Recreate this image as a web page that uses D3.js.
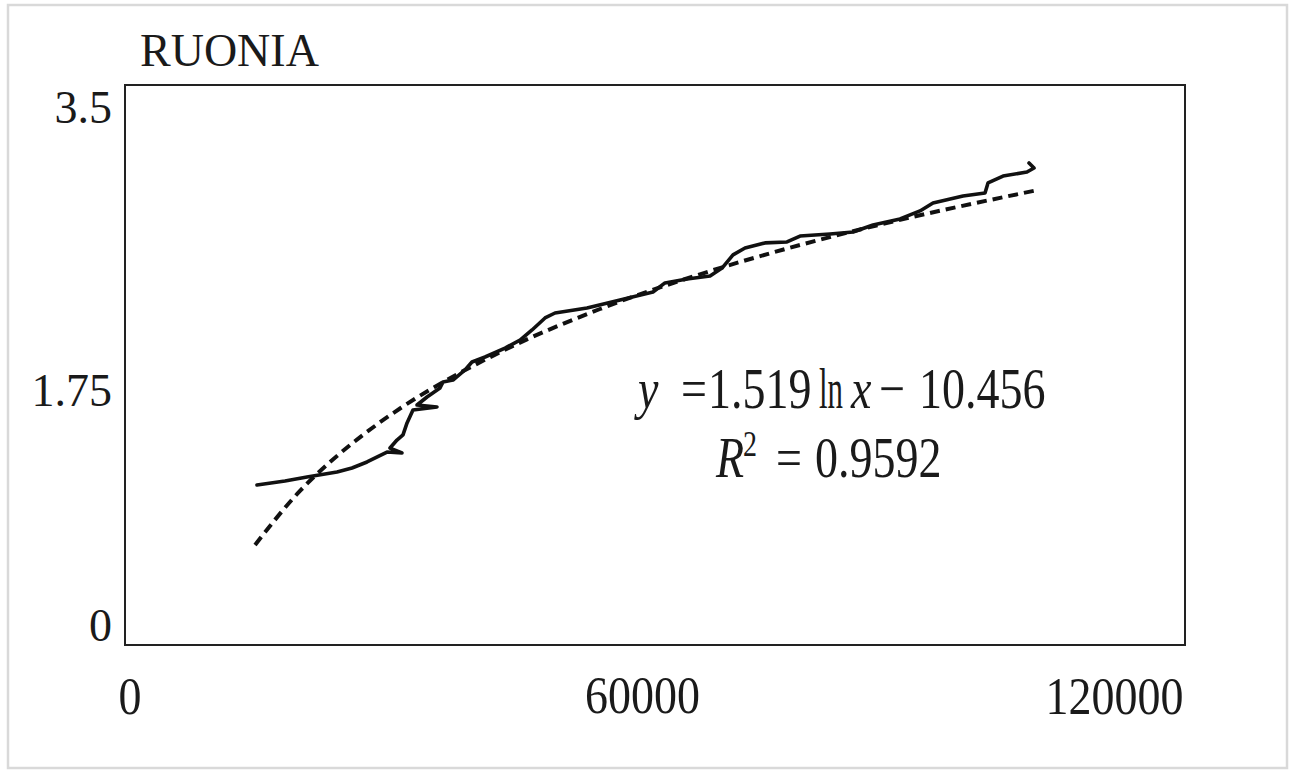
<!DOCTYPE html>
<html>
<head>
	<meta charset="utf-8">
	<script src="https://d3js.org/d3.v7.min.js"></script>
	<style>
		body { margin: 0; background: #fff; }
	</style>
</head>
<body>
	<svg id="chart" width="1291" height="771"></svg>
	<script>

	// RUONIA series (points in time order, x is not monotonic)
	const seriesX = [14940, 18110, 20600, 24000, 25700, 27400, 29660, 31360, 30000, 30790,
		31470, 31930, 32600, 35320, 33060, 34190, 35660, 36000, 37130, 38490,
		39280, 40760, 43020, 44720, 46080, 47550, 48680, 52300, 56040, 59770,
		61130, 63620, 66230, 67590, 68830, 70190, 72450, 74940, 76420, 79810,
		82420, 84680, 87740, 90000, 91470, 94870, 97360, 97700, 99400, 102110,
		102910, 102340];
	const seriesY = [1.00, 1.025, 1.05, 1.081, 1.106, 1.144, 1.206, 1.20, 1.231, 1.281,
		1.313, 1.388, 1.469, 1.488, 1.50, 1.55, 1.606, 1.644, 1.656, 1.719,
		1.769, 1.80, 1.856, 1.906, 1.969, 2.044, 2.075, 2.106, 2.156, 2.206,
		2.263, 2.288, 2.306, 2.356, 2.438, 2.481, 2.513, 2.519, 2.556, 2.569,
		2.581, 2.625, 2.663, 2.713, 2.763, 2.806, 2.825, 2.888, 2.931, 2.956,
		2.981, 3.013];

	// logarithmic trend line (dashed)
	const trendX = [14720, 19810, 21280, 25470, 28870, 31130, 42450, 53770, 65090, 76420, 87740, 103020];
	const trendY = [0.625, 0.963, 1.045, 1.249, 1.392, 1.478, 1.830, 2.100, 2.317, 2.500, 2.657, 2.840];

	const xTicks = [0, 60000, 120000];
	const yTicks = [0, 1.75, 3.5];
	const title = "RUONIA";

	const font = "'Liberation Serif', 'DejaVu Serif'";

	const svg = d3.select("#chart");

	// light outer frame
	svg.append("rect")
		.attr("x", 8).attr("y", 5)
		.attr("width", 1279).attr("height", 763)
		.attr("fill", "none")
		.attr("stroke", "#d9d9d9")
		.attr("stroke-width", 2.5);

	const plotL = 125, plotR = 1185, plotT = 85, plotB = 645;

	const x = d3.scaleLinear().domain([0, 120000]).range([plotL, plotR]);
	const y = d3.scaleLinear().domain([0, 3.5]).range([plotB, plotT]);

	// plot box
	svg.append("rect")
		.attr("x", plotL).attr("y", plotT)
		.attr("width", plotR - plotL).attr("height", plotB - plotT)
		.attr("fill", "none")
		.attr("stroke", "#222")
		.attr("stroke-width", 2);

	// x axis labels (slightly taller glyphs in the original)
	const xAnchor = ["start", "middle", "end"];
	const xDx = [-7, -13, -2];
	const xBase = [69, 68, 69];
	const gx = svg.append("g")
		.attr("transform", `translate(0,${plotB})`)
		.call(d3.axisBottom(x).tickValues(xTicks).tickSize(0).tickFormat(d3.format("d")));
	gx.attr("font-family", font).attr("font-size", 46);
	gx.select(".domain").remove();
	gx.selectAll("text")
		.attr("fill", "#1a1a1a")
		.attr("dy", null)
		.attr("y", 0)
		.attr("transform", (d, i) => `translate(0,${xBase[i]}) scale(1,1.15)`)
		.attr("text-anchor", (d, i) => xAnchor[i])
		.attr("dx", (d, i) => xDx[i]);

	// y axis labels
	const yDy = [-5, 40, 37];
	const gy = svg.append("g")
		.attr("transform", `translate(${plotL},0)`)
		.call(d3.axisLeft(y).tickValues(yTicks).tickSize(0).tickPadding(13).tickFormat(d => d));
	gy.attr("font-family", font).attr("font-size", 46);
	gy.select(".domain").remove();
	gy.selectAll("text")
		.attr("fill", "#1a1a1a")
		.attr("dy", (d, i) => yDy[i]);

	// title
	svg.append("text")
		.attr("x", 140).attr("y", 66)
		.attr("font-family", font)
		.attr("font-size", 46)
		.attr("fill", "#1a1a1a")
		.text(title);

	// trend line
	const trend = trendX.map((d, i) => [d, trendY[i]]);
	svg.append("path")
		.datum(trend)
		.attr("fill", "none")
		.attr("stroke", "#111")
		.attr("stroke-width", 4)
		.attr("stroke-dasharray", "10,6")
		.attr("d", d3.line().x(d => x(d[0])).y(d => y(d[1])).curve(d3.curveMonotoneX));

	// series
	const series = seriesX.map((d, i) => [d, seriesY[i]]);
	svg.append("path")
		.datum(series)
		.attr("fill", "none")
		.attr("stroke", "#111")
		.attr("stroke-width", 3.6)
		.attr("stroke-linejoin", "round")
		.attr("stroke-linecap", "round")
		.attr("d", d3.line().x(d => x(d[0])).y(d => y(d[1])));

	// regression equation
	const eq = svg.append("g")
		.attr("font-family", font)
		.attr("font-size", 46)
		.attr("fill", "#1a1a1a");
	const line1 = eq.append("text").attr("transform", "translate(0,408) scale(1,1.25)");
	line1.append("tspan").attr("x", 638).attr("font-style", "italic").text("y");
	line1.append("tspan").attr("x", 681).text("=");
	line1.append("tspan").attr("x", 708).text("1.519");
	line1.append("tspan").attr("x", 819).attr("textLength", 24).attr("lengthAdjust", "spacingAndGlyphs").text("ln");
	line1.append("tspan").attr("x", 851).attr("font-style", "italic").text("x");
	line1.append("tspan").attr("x", 879).text("\u2212");
	line1.append("tspan").attr("x", 919).text("10.456");

	const line2 = eq.append("text").attr("transform", "translate(0,477) scale(1,1.25)");
	line2.append("tspan").attr("x", 716).attr("font-style", "italic").text("R");
	line2.append("tspan").attr("x", 743).attr("dy", -17).attr("font-size", 28).text("2");
	line2.append("tspan").attr("x", 776).attr("dy", 17).text("=");
	line2.append("tspan").attr("x", 815).text("0.9592");

	</script>
</body>
</html>
